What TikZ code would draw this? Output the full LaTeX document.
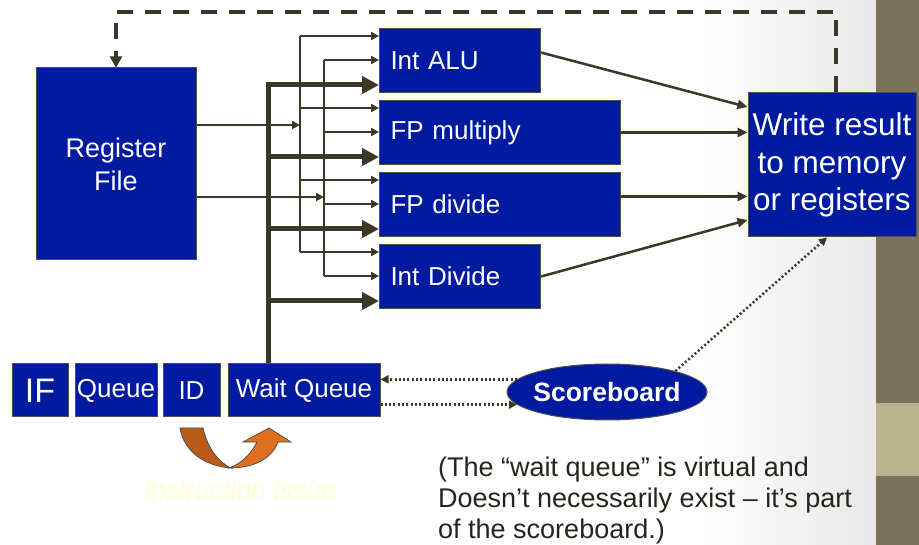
\documentclass[tikz,border=0pt]{standalone}
\usepackage{fontspec}
\setmainfont{Liberation Sans}
\usetikzlibrary{arrows.meta,shapes.geometric,calc}

\definecolor{boxblue}{RGB}{0,26,160}
\definecolor{boxedge}{RGB}{80,80,80}
\definecolor{linedark}{RGB}{60,56,40}
\definecolor{stripe}{RGB}{122,113,89}
\definecolor{band}{RGB}{185,179,144}
\definecolor{orangeA}{RGB}{184,92,24}
\definecolor{orangeB}{RGB}{224,112,32}
\definecolor{issuetext}{RGB}{255,255,205}
\definecolor{notetext}{RGB}{40,36,28}

\begin{document}
\begin{tikzpicture}[x=1pt,y=-1pt,
  unitbox/.style={draw=boxedge, line width=1pt, fill=boxblue, text=white,
    anchor=north west, minimum height=64pt, inner xsep=11pt, inner ysep=0pt,
    align=left, font=\fontsize{26}{30}\selectfont},
  stagebox/.style={draw=boxedge, line width=1pt, fill=boxblue, text=white,
    inner sep=0pt, minimum height=53pt, font=\fontsize{26}{30}\selectfont},
  bigbox/.style={draw=boxedge, line width=1pt, fill=boxblue, text=white,
    inner sep=0pt, align=center},
  thinarrow/.style={draw=linedark, line width=2pt, -{Triangle[length=8pt,width=8pt]}},
  thinline/.style={draw=linedark, line width=2pt},
  thickarrow/.style={draw=linedark, line width=5pt, -{Triangle[length=17pt,width=17pt]}},
  outarrow/.style={draw=linedark, line width=2.5pt, -{Triangle[length=10pt,width=9pt]}},
  feedback/.style={draw=linedark, line width=3.5pt, dash pattern=on 16pt off 12pt,
    -{Triangle[length=11pt,width=12pt]}},
  dotarrow/.style={draw=linedark, line width=2.5pt, dash pattern=on 2pt off 2.3pt,
    -{Triangle[length=8pt,width=8pt]}},
  issuearrow/.style={draw=boxedge, line width=0.8pt}
]
\useasboundingbox (0,0) rectangle (919,545);

% background with the soft grey fade and the side stripe
\fill[white] (0,0) rectangle (919,545);
\shade[left color=white, right color=black!9] (700,0) rectangle (876,545);
\fill[stripe] (876,0) rectangle (919,545);
\fill[band] (876,403) rectangle (919,476);

% register file and functional units
\node[bigbox, minimum width=160pt, minimum height=192pt,
  font=\fontsize{27}{33}\selectfont] (rf) at (116,164) {Register\\File};
\node[unitbox, text width=139pt] (alu) at (379,28) {Int ALU};
\node[unitbox, text width=219pt] (fpm) at (379,100) {FP multiply};
\node[unitbox, text width=219pt] (fpd) at (379,172) {FP divide};
\node[unitbox, text width=139pt] (idv) at (379,244) {Int Divide};
\node[bigbox, minimum width=168pt, minimum height=144pt,
  font=\fontsize{31.5}{37.5}\selectfont] (wr) at (832,165)
  {Write result\\to memory\\or registers};

% front-end pipeline stages
\node[stagebox, minimum width=56pt, font=\fontsize{34}{36}\selectfont] (if) at (40,390.5) {IF};
\node[stagebox, minimum width=82pt] (q) at (116,390.5) {Queue};
\node[stagebox, minimum width=57pt] (id) at (191.5,390.5) {ID};
\node[stagebox, minimum width=152pt] (wq) at (304,390.5) {Wait Queue};

% scoreboard
\node[ellipse, draw=boxedge, line width=1pt, fill=boxblue, text=white,
  inner xsep=-4pt, inner ysep=0pt, minimum width=200pt, minimum height=56pt,
  font=\bfseries\fontsize{26.5}{30}\selectfont] (sb) at (607,392) {Scoreboard};

% bus columns
\coordinate (colA) at (300,0);
\coordinate (colB) at (324,0);
\coordinate (colT) at (268,0);

% operand taps on each unit
\foreach \u in {alu,fpm,fpd,idv}{
  \coordinate (\u-a) at ([yshift=-8pt]\u.north west);
  \coordinate (\u-b) at ([yshift=-32pt]\u.north west);
  \coordinate (\u-t) at ([yshift=-57pt]\u.north west);
}
\coordinate (rf-a) at ([yshift=39pt]rf.east);
\coordinate (rf-b) at ([yshift=-33pt]rf.east);
\coordinate (alu-o) at ([yshift=8pt]alu.east);
\coordinate (fpd-o) at ([yshift=8pt]fpd.east);
\coordinate (wr-a) at ([yshift=58pt]wr.west);
\coordinate (wr-d) at ([yshift=-55pt]wr.west);
\coordinate (wr-s) at ([xshift=-5pt]wr.south);
\coordinate (wr-n) at ([xshift=4pt]wr.north);

% register operand buses
\draw[thinline] (colA |- alu-a) -- (colA |- idv-a);
\draw[thinline] (colB |- alu-b) -- (colB |- idv-b);
\foreach \u in {alu,fpm,fpd,idv}{
  \draw[thinarrow] (colA |- \u-a) -- (\u-a);
  \draw[thinarrow] (colB |- \u-b) -- (\u-b);
}
\draw[thinarrow] (rf-a) -- (colA |- rf-a);
\draw[thinarrow] (rf-b) -- (colB |- rf-b);

% instruction issue bus
\draw[thickarrow] (wq.north -| colT) -- (colT |- alu-t) -- (alu-t);
\foreach \u in {fpm,fpd,idv}{
  \draw[thickarrow] (colT |- \u-t) -- (\u-t);
}

% results to write-back
\draw[outarrow] (alu-o) -- (wr-a);
\draw[outarrow] (fpm.east) -- (wr.west |- fpm.east);
\draw[outarrow] (fpd-o) -- (wr.west |- fpd-o);
\draw[outarrow] (idv.east) -- (wr-d);

% write-back feedback to the register file
\coordinate (fbR) at (836,12);
\coordinate (fbL) at (116,12);
\draw[feedback] (wr-n) -- (fbR) -- (fbL) -- (rf.north);

% scoreboard control
\draw[dotarrow] (sb.172) -- (wq.east |- sb.172);
\draw[dotarrow] (wq.east |- sb.188) -- (sb.188);
\draw[dotarrow] (sb.17) -- (wr-s);

% instruction issue arrow
\filldraw[issuearrow, fill=orangeA] (180,428) -- (203,428)
  .. controls (208,450) and (220,463) .. (231,468)
  .. controls (205,466) and (184,452) .. (180,428) -- cycle;
\filldraw[issuearrow, fill=orangeB] (229,468) .. controls (255,468) and (272,458) .. (278,442)
  -- (291,442) -- (269,428) -- (243,442) -- (257,442)
  .. controls (250,456) and (240,464) .. (229,468) -- cycle;
\node[text=issuetext, font=\itshape\fontsize{26.5}{30}\selectfont, anchor=base]
  (issue) at (240,499) {Instruction Issue};

% note
\node[text=notetext, font=\fontsize{27}{31}\selectfont, align=left,
  anchor=north west, inner sep=0pt] (note) at (438,457)
  {(The “wait queue” is virtual and\\Doesn’t necessarily exist – it’s part\\of the scoreboard.)};
\end{tikzpicture}
\end{document}
